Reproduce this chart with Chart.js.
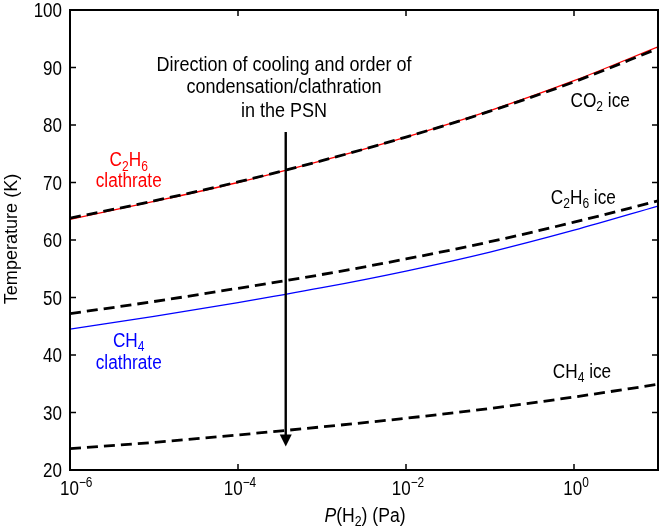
<!DOCTYPE html>
<html>
<head>
<meta charset="utf-8">
<script src="https://cdn.jsdelivr.net/npm/chart.js@4"></script>
<style>
  body { margin: 0; background: #fff; }
  canvas { display: block; }
</style>
</head>
<body>
<canvas id="phase_chart" width="660" height="532"></canvas>
<script>
// pressure of H2 in Pa, one point per decade
const pressures = [1e-6, 1e-5, 1e-4, 1e-3, 1e-2, 1e-1, 1e0, 1e1];

// temperatures (K)
const co2Ice = [63.8, 66.8, 70.1, 73.8, 77.9, 82.4, 87.5, 93.3];
const c2h6Clathrate = [63.6, 66.7, 70.0, 73.8, 77.9, 82.5, 87.7, 93.6];
const c2h6Ice = [47.2, 49.3, 51.6, 54.0, 56.7, 59.7, 63.1, 66.8];
const ch4Clathrate = [44.5, 46.7, 49.1, 51.7, 54.6, 57.9, 61.7, 65.9];
const ch4Ice = [23.7, 24.8, 26.1, 27.5, 29.0, 30.7, 32.7, 34.9];

const yTicks = [20, 30, 40, 50, 60, 70, 80, 90, 100];
const xTicks = [1e-6, 1e-4, 1e-2, 1e0];
const xTickExponents = ['\u22126', '\u22124', '\u22122', '0'];

// the cooling arrow (pressure, top temperature, bottom temperature)
const arrowP = 3.7e-4;
const arrowTop = 78.8;
const arrowBottom = 24.1;

const FONT = '"Liberation Sans", Arial, sans-serif';
const SQUASH = 0.88;

function toPoints(values) {
    return pressures.map((p, i) => ({ x: p, y: values[i] }));
}

// draws text made of parts like {t:'C'}, {t:'2', sub:true}, {t:'P', it:true}
function drawRich(c, parts, x, y, opts) {
    const size = opts.size || 20;
    const align = opts.align || 'left';
    const sq = opts.squash || SQUASH;
    c.save();
    c.fillStyle = opts.color || '#000';
    c.textBaseline = 'alphabetic';
    c.textAlign = 'left';

    let widths = [];
    let total = 0;
    parts.forEach(part => {
        const s = (part.sub || part.sup) ? size * 0.7 : size;
        c.font = (part.it ? 'italic ' : '') + s + 'px ' + FONT;
        const w = c.measureText(part.t).width;
        widths.push(w);
        total += w;
    });

    c.translate(x, y);
    if (opts.rotate) c.rotate(opts.rotate);
    c.scale(sq, 1);
    let cx = 0;
    if (align === 'center') cx = -total / 2;
    if (align === 'right') cx = -total;

    parts.forEach((part, i) => {
        const s = (part.sub || part.sup) ? size * 0.7 : size;
        c.font = (part.it ? 'italic ' : '') + s + 'px ' + FONT;
        let dy = 0;
        if (part.sub) dy = size * 0.22;
        if (part.sup) dy = -size * 0.42;
        c.fillText(part.t, cx, dy);
        cx += widths[i];
    });
    c.restore();
    return total * sq;
}

function richWidth(c, parts, size, sq) {
    let total = 0;
    parts.forEach(part => {
        const s = (part.sub || part.sup) ? size * 0.7 : size;
        c.font = (part.it ? 'italic ' : '') + s + 'px ' + FONT;
        total += c.measureText(part.t).width;
    });
    return total * (sq || SQUASH);
}

// labels placed in data coordinates
const labels = [
    { p: 5e-6, T: 72.8, align: 'center', color: '#ff0000', parts: [{t:'C'},{t:'2',sub:true},{t:'H'},{t:'6',sub:true}] },
    { p: 5e-6, T: 69.3, align: 'center', color: '#ff0000', parts: [{t:'clathrate'}] },
    { p: 5e-6, T: 41.4, align: 'center', color: '#0000ff', parts: [{t:'CH'},{t:'4',sub:true}] },
    { p: 5e-6, T: 37.6, align: 'center', color: '#0000ff', parts: [{t:'clathrate'}] },
    { p: 0.91, T: 83.2, align: 'left', color: '#000', parts: [{t:'CO'},{t:'2',sub:true},{t:' ice'}] },
    { p: 0.53, T: 66.3, align: 'left', color: '#000', parts: [{t:'C'},{t:'2',sub:true},{t:'H'},{t:'6',sub:true},{t:' ice'}] },
    { p: 0.56, T: 36.0, align: 'left', color: '#000', parts: [{t:'CH'},{t:'4',sub:true},{t:' ice'}] },
    { p: 3.53e-4, T: 89.4, align: 'center', color: '#000', parts: [{t:'Direction of cooling and order of'}], sq: 0.9 },
    { p: 3.53e-4, T: 85.5, align: 'center', color: '#000', parts: [{t:'condensation/clathration'}], sq: 0.9 },
    { p: 3.53e-4, T: 81.4, align: 'center', color: '#000', parts: [{t:'in the PSN'}], sq: 0.9 }
];

const framePlugin = {
    id: 'frame',
    afterDatasetsDraw(chart) {
        const c = chart.ctx;
        const a = chart.chartArea;
        const xs = chart.scales.x;
        const ys = chart.scales.y;

        c.save();
        // arrow
        const ax = xs.getPixelForValue(arrowP);
        const at = ys.getPixelForValue(arrowTop);
        const ab = ys.getPixelForValue(arrowBottom);
        c.strokeStyle = '#000';
        c.lineWidth = 2.4;
        c.beginPath();
        c.moveTo(ax, at);
        c.lineTo(ax, ab - 10);
        c.stroke();
        c.fillStyle = '#000';
        c.beginPath();
        c.moveTo(ax - 6, ab - 12);
        c.lineTo(ax + 6, ab - 12);
        c.lineTo(ax, ab);
        c.closePath();
        c.fill();

        // frame
        c.lineWidth = 2;
        c.strokeRect(a.left, a.top, a.right - a.left, a.bottom - a.top);

        // inward ticks
        c.lineWidth = 1.5;
        const tl = 6;
        c.beginPath();
        yTicks.forEach(v => {
            const y = ys.getPixelForValue(v);
            c.moveTo(a.left, y); c.lineTo(a.left + tl, y);
            c.moveTo(a.right, y); c.lineTo(a.right - tl, y);
        });
        xTicks.forEach(v => {
            const x = xs.getPixelForValue(v);
            c.moveTo(x, a.bottom); c.lineTo(x, a.bottom - tl);
            c.moveTo(x, a.top); c.lineTo(x, a.top + tl);
        });
        c.stroke();
        c.restore();

        // y tick labels
        yTicks.forEach(v => {
            const y = ys.getPixelForValue(v);
            drawRich(c, [{t: String(v)}], a.left - 8, y + 7, { size: 20, align: 'right', squash: 0.85 });
        });

        // x tick labels: 10 with a superscript exponent
        xTicks.forEach((v, i) => {
            const x = xs.getPixelForValue(v);
            const parts = [{t:'10'}, {t: xTickExponents[i], sup: true}];
            const w = richWidth(c, parts, 20, 0.85);
            let left = x - w / 2 + 2;
            if (left < a.left - 10) left = a.left - 10;
            drawRich(c, parts, left, a.bottom + 25, { size: 20, align: 'left', squash: 0.85 });
        });

        // axis titles
        drawRich(c, [{t:'Temperature (K)'}], 17, (a.top + a.bottom) / 2 - 1,
            { size: 19, align: 'center', rotate: -Math.PI / 2, squash: 0.95 });
        drawRich(c, [{t:'P', it:true}, {t:'(H'}, {t:'2', sub:true}, {t:') (Pa)'}],
            365, a.bottom + 52, { size: 20, align: 'center', squash: 0.88 });

        // curve labels and note
        labels.forEach(l => {
            drawRich(c, l.parts, xs.getPixelForValue(l.p), ys.getPixelForValue(l.T),
                { size: 20, align: l.align, color: l.color, squash: l.sq || 0.86 });
        });
    }
};

const ctx = document.getElementById('phase_chart');

const dashed = { borderColor: '#000', borderWidth: 2.8, borderDash: [11, 6] };

let chart = new Chart(ctx, {
    type: 'line',
    data: {
        datasets: [
            { label: 'CO2 ice', data: toPoints(co2Ice), ...dashed, order: 1 },
            { label: 'C2H6 clathrate', data: toPoints(c2h6Clathrate), borderColor: '#ff0000', borderWidth: 1.3, order: 2 },
            { label: 'C2H6 ice', data: toPoints(c2h6Ice), ...dashed, order: 1 },
            { label: 'CH4 clathrate', data: toPoints(ch4Clathrate), borderColor: '#0000ff', borderWidth: 1.3, order: 2 },
            { label: 'CH4 ice', data: toPoints(ch4Ice), ...dashed, order: 1 }
        ]
    },
    options: {
        responsive: false,
        animation: false,
        layout: { padding: { left: 70, right: 2, top: 10, bottom: 62 } },
        elements: {
            point: { radius: 0 },
            line: { cubicInterpolationMode: 'monotone', fill: false }
        },
        plugins: {
            legend: { display: false },
            tooltip: { enabled: false }
        },
        scales: {
            x: { type: 'logarithmic', min: 1e-6, max: 10, display: false },
            y: { min: 20, max: 100, display: false }
        }
    },
    plugins: [framePlugin]
});
</script>
</body>
</html>
